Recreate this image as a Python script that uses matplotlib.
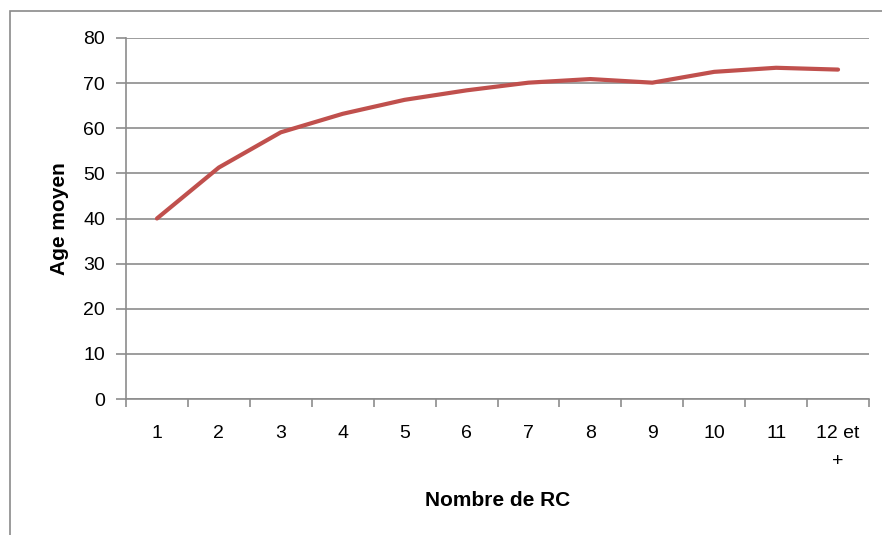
import matplotlib.pyplot as plt
from matplotlib.patches import Rectangle
import numpy as np

categories = ['1', '2', '3', '4', '5', '6', '7', '8', '9', '10', '11', '12 et\n+']
age_moyen = [40, 51.3, 59.1, 63.2, 66.3, 68.4, 70.1, 70.9, 70.1, 72.5, 73.4, 73.0]

grid_col = '#8c8c8c'
line_col = '#c0504d'
fnt = 'Liberation Sans'

fig = plt.figure(figsize=(8.82, 5.35), dpi=100)
ax = fig.add_axes([126/882, 1-399/535, (869-126)/882, (399-38)/535])

x = np.arange(len(categories))
ax.plot(x, age_moyen, color=line_col, linewidth=3.0, solid_capstyle='round', zorder=3)

ax.set_xlim(-0.5, len(categories)-0.5)
ax.set_ylim(0, 80)
ax.set_yticks(np.arange(0, 81, 10))
ax.yaxis.grid(True, color=grid_col, linewidth=1.2)
ax.set_axisbelow(True)

# ticks on category boundaries, labels at centres
ax.set_xticks(np.arange(-0.5, len(categories), 1.0))
ax.set_xticklabels([])
ax.set_xticks(x, minor=True)
ax.set_xticklabels(categories, minor=True, fontsize=14, family=fnt, linespacing=1.85, va='top')
ax.tick_params(axis='x', which='minor', length=0, pad=19)
ax.tick_params(axis='x', which='major', length=6, width=1.2, color=grid_col)
ax.tick_params(axis='y', length=7, width=1.2, color=grid_col, labelsize=14, pad=8)
for lab in ax.get_yticklabels():
    lab.set_family(fnt)

for side in ['top', 'right']:
    ax.spines[side].set_visible(False)
for side in ['left', 'bottom']:
    ax.spines[side].set_color(grid_col)
    ax.spines[side].set_linewidth(1.2)

ax.set_xlabel('Nombre de RC', fontsize=15, fontweight='bold', family=fnt, labelpad=15)
ax.set_ylabel('Age moyen', fontsize=15, fontweight='bold', family=fnt, labelpad=10)

# outer chart frame, partly cut off by the picture edge
fig.patches.append(Rectangle((10/882, -0.1), 1.2, 1.1 - 11/535, transform=fig.transFigure,
                             fill=False, edgecolor='#8a8a8a', linewidth=1.2))

fig.savefig('out.png', dpi=100)
